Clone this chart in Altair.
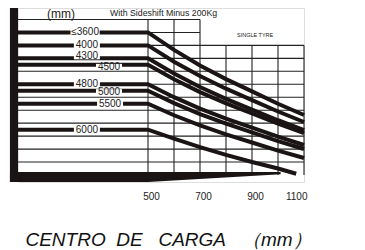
import altair as alt
import pandas as pd

# ---------------- data ----------------
mast_heights = ["≤3600", "4000", "4300", "4500", "4800", "5000", "5500", "6000"]
load_centers = [0, 500, 600, 700, 800, 900, 1000, 1100]
load_centers_6000 = [0, 500, 600, 700, 800, 900, 1000, 1070]
cap_3600 = [2200, 2200, 1930, 1690, 1480, 1290, 1100, 926]
cap_4000 = [2000, 2000, 1749, 1527, 1332, 1156, 980, 818]
cap_4300 = [1800, 1800, 1566, 1358, 1175, 1010, 845, 694]
cap_4500 = [1700, 1700, 1477, 1279, 1106, 949, 792, 648]
cap_4800 = [1400, 1400, 1201, 1025, 871, 731, 591, 463]
cap_5000 = [1300, 1300, 1109, 940, 792, 658, 524, 401]
cap_5500 = [1100, 1100, 922, 765, 627, 502, 377, 262]
cap_6000 = [700, 700, 560, 430, 310, 200, 100, 20]

# where each mast label sits on its flat line (mm along the x scale)
label_pos = [258, 265, 265, 350, 265, 350, 354, 265]
label_kg = [2200, 2000, 1830, 1670, 1400, 1280, 1100, 700]
label_halfw = [56, 50, 50, 50, 50, 50, 50, 50]

x_ticks = [500, 700, 900, 1100]

grid_kg = [200, 400, 600, 800, 1000, 1200, 1400, 1600, 1800, 2000, 2200, 2400]
grid_kg_end = [1100, 1100, 1100, 1100, 1100, 1100, 1100, 1100, 1100, 1100, 700, 700]
vert_mm = [500, 600, 700, 800, 900, 1000, 1100]
vert_top = [2400, 2400, 2400, 2000, 2000, 2000, 2000]

frame_x = [-31, 500, 1010]
frame_low = [-108, -108, 10]
frame_high = [46, 46, 46]

# ---------------- tables ----------------
series = [cap_3600, cap_4000, cap_4300, cap_4500, cap_4800, cap_5000, cap_5500, cap_6000]
rows = []
for name, caps in zip(mast_heights, series):
    xs = load_centers_6000 if name == "6000" else load_centers
    for c, q in zip(xs, caps):
        rows.append({"mast": name, "mm": c, "kg": q})
curves = pd.DataFrame(rows)

labels = pd.DataFrame({
    "mast": mast_heights,
    "mm": label_pos,
    "kg": label_kg,
})
labels["x0"] = [p - w for p, w in zip(label_pos, label_halfw)]
labels["x1"] = [p + w for p, w in zip(label_pos, label_halfw)]
labels["y0"] = [k - 45 for k in label_kg]
labels["y1"] = [k + 45 for k in label_kg]

hgrid = pd.DataFrame({"kg": grid_kg, "x0": [0] * len(grid_kg), "x1": grid_kg_end})
vgrid = pd.DataFrame({"mm": vert_mm, "y0": [0] * len(vert_mm), "y1": vert_top})
frame = pd.DataFrame({"mm": frame_x, "lo": frame_low, "hi": frame_high})
leftbar = pd.DataFrame({"x0": [-31], "x1": [0], "y0": [-108], "y1": [2577]})

notes = pd.DataFrame({
    "mm": [165, 560, 912],
    "kg": [2480, 2500, 2160],
    "txt": ["(mm)", "With Sideshift Minus 200Kg", "SINGLE TYRE"],
})

# ---------------- scales ----------------
xs_ = alt.Scale(domain=[0, 1100], nice=False, zero=False)
ys_ = alt.Scale(domain=[-108, 2577], nice=False, zero=False)
xaxis = alt.Axis(
    values=x_ticks, format="d", domain=False, ticks=False, grid=False,
    labelFont="Liberation Sans Narrow, Liberation Sans", labelFontSize=10,
    labelColor="#222", labelPadding=9, labelOffset=3,
    title="CENTRO\u00a0\u00a0DE\u00a0\u00a0\u00a0CARGA\u00a0\u00a0\u00a0（mm）",
    titleFont="Liberation Sans", titleFontSize=19, titleFontStyle="italic",
    titleFontWeight="normal", titleColor="#111",
    titleBaseline="alphabetic", titleY=63, titleX=150, titleAlign="center",
)
ink = "#1a1414"

hg = alt.Chart(hgrid).mark_rule(color="#222", strokeWidth=1.1).encode(
    x=alt.X("x0:Q", scale=xs_, axis=xaxis), x2="x1:Q",
    y=alt.Y("kg:Q", scale=ys_, axis=None),
)
vg = alt.Chart(vgrid).mark_rule(color="#222", strokeWidth=1.1).encode(
    x=alt.X("mm:Q", scale=xs_, axis=xaxis),
    y=alt.Y("y0:Q", scale=ys_, axis=None), y2="y1:Q",
)
band = alt.Chart(frame).mark_area(color=ink, clip=False).encode(
    x=alt.X("mm:Q", scale=xs_, axis=xaxis),
    y=alt.Y("lo:Q", scale=ys_, axis=None), y2="hi:Q",
)
bar = alt.Chart(leftbar).mark_rect(color=ink, clip=False).encode(
    x=alt.X("x0:Q", scale=xs_, axis=xaxis), x2="x1:Q",
    y=alt.Y("y0:Q", scale=ys_, axis=None), y2="y1:Q",
)
lines = alt.Chart(curves).mark_line(color=ink, strokeWidth=4, strokeCap="butt").encode(
    x=alt.X("mm:Q", scale=xs_, axis=xaxis),
    y=alt.Y("kg:Q", scale=ys_, axis=None),
    detail="mast:N",
)
boxes = alt.Chart(labels).mark_rect(color="white").encode(
    x=alt.X("x0:Q", scale=xs_, axis=xaxis), x2="x1:Q",
    y=alt.Y("y0:Q", scale=ys_, axis=None), y2="y1:Q",
)
ltext = alt.Chart(labels).mark_text(
    font="Liberation Sans Narrow, Liberation Sans", fontSize=10, color="#222", baseline="middle"
).encode(
    x=alt.X("mm:Q", scale=xs_, axis=xaxis),
    y=alt.Y("kg:Q", scale=ys_, axis=None),
    text="mast:N",
)
ntext = alt.Chart(notes).mark_text(font="Liberation Sans", color="#222", baseline="middle").encode(
    x=alt.X("mm:Q", scale=xs_, axis=xaxis),
    y=alt.Y("kg:Q", scale=ys_, axis=None),
    text="txt:N",
    size=alt.Size("txt:N", scale=alt.Scale(domain=["(mm)", "With Sideshift Minus 200Kg", "SINGLE TYRE"], range=[12, 5.5, 7]), legend=None),
)

chart = alt.layer(hg, vg, band, bar, lines, boxes, ltext, ntext).properties(
    width=286, height=174,
    padding={"left": 10, "top": 0, "right": 53, "bottom": 68},
    autosize=alt.AutoSizeParams(type="none"),
).configure_view(stroke=None).configure(background="white")

chart.save("out.html", embed_options={"renderer": "svg", "actions": False})
